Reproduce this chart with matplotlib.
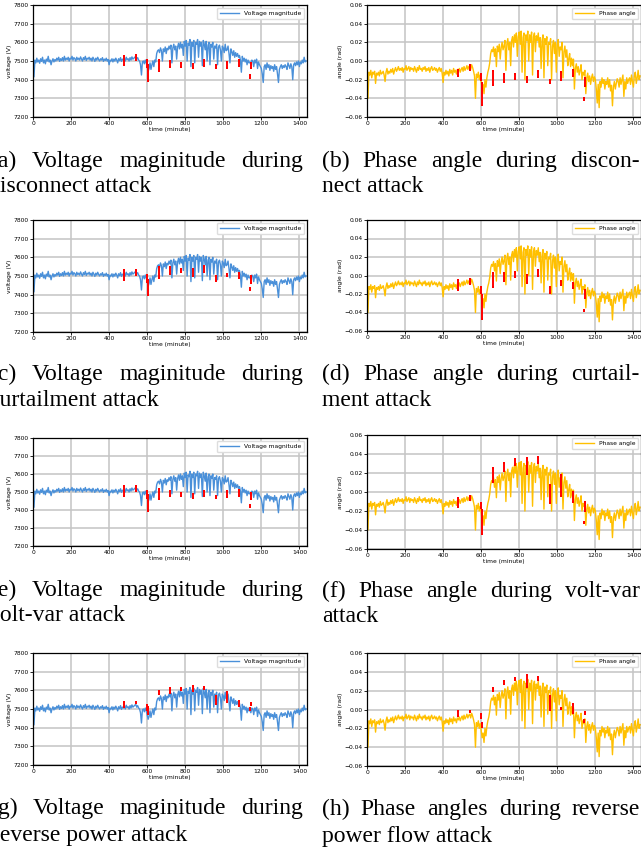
import numpy as np
import matplotlib.pyplot as plt

# feeder measurements, one sample every 5 minutes over a day
minutes = np.arange(0, 1440, 5)

voltage = np.array([
    7510, 7415, 7505, 7490, 7515, 7495, 7505, 7488, 7512, 7498, 7520, 7490,
    7505, 7485, 7510, 7500, 7525, 7495, 7505, 7480, 7500, 7512, 7495, 7508,
    7500, 7515, 7505, 7520, 7498, 7512, 7503, 7518, 7500, 7525, 7505, 7515,
    7508, 7520, 7500, 7515, 7510, 7525, 7505, 7518, 7512, 7500, 7520, 7508,
    7515, 7505, 7522, 7510, 7500, 7518, 7508, 7525, 7503, 7515, 7510, 7520,
    7505, 7515, 7500, 7520, 7510, 7498, 7515, 7505, 7520, 7508, 7500, 7512,
    7505, 7518, 7498, 7510, 7503, 7515, 7500, 7508, 7480, 7505, 7500, 7512,
    7495, 7510, 7500, 7515, 7505, 7490, 7512, 7502, 7518, 7498, 7510, 7505,
    7515, 7500, 7520, 7508, 7512, 7500, 7518, 7505, 7522, 7510, 7515, 7520,
    7525, 7510, 7518, 7505, 7500, 7480, 7425, 7495, 7500, 7485, 7505, 7490,
    7470, 7445, 7460, 7490, 7455, 7480, 7500, 7470, 7505, 7495, 7540, 7555,
    7560, 7545, 7570, 7555, 7500, 7565, 7550, 7575, 7540, 7568, 7560, 7580,
    7565, 7585, 7490, 7570, 7590, 7560, 7580, 7510, 7575, 7595, 7565, 7600,
    7570, 7590, 7530, 7605, 7580, 7610, 7500, 7595, 7585, 7615, 7470, 7600,
    7580, 7610, 7490, 7600, 7590, 7615, 7520, 7605, 7580, 7600, 7475, 7610,
    7590, 7560, 7605, 7500, 7585, 7600, 7480, 7590, 7575, 7600, 7510, 7580,
    7570, 7590, 7480, 7575, 7585, 7560, 7500, 7580, 7570, 7545, 7590, 7555,
    7560, 7580, 7540, 7490, 7565, 7550, 7530, 7555, 7520, 7545, 7525, 7540,
    7520, 7530, 7505, 7440, 7525, 7500, 7515, 7495, 7510, 7480, 7505, 7490,
    7495, 7480, 7505, 7500, 7470, 7505, 7490, 7510, 7460, 7495, 7480, 7470,
    7460, 7430, 7385, 7470, 7480, 7455, 7490, 7465, 7480, 7450, 7475, 7460,
    7470, 7445, 7480, 7455, 7470, 7430, 7385, 7455, 7470, 7480, 7460, 7475,
    7465, 7480, 7470, 7455, 7490, 7475, 7460, 7485, 7470, 7400, 7480, 7490,
    7475, 7495, 7480, 7500, 7470, 7495, 7485, 7505, 7490, 7520, 7495, 7500,
])

angle = np.array([
    -0.010, -0.040, -0.012, -0.015, -0.010, -0.018, -0.012, -0.014, -0.011, -0.024, -0.013, -0.015,
    -0.012, -0.016, -0.010, -0.014, -0.013, -0.011, -0.015, -0.022, -0.012, -0.008, -0.014, -0.011,
    -0.013, -0.009, -0.012, -0.008, -0.014, -0.010, -0.007, -0.011, -0.009, -0.006, -0.010, -0.008,
    -0.010, -0.007, -0.012, -0.008, -0.009, -0.005, -0.010, -0.008, -0.006, -0.011, -0.007, -0.009,
    -0.008, -0.011, -0.006, -0.009, -0.012, -0.007, -0.010, -0.005, -0.009, -0.008, -0.011, -0.007,
    -0.009, -0.006, -0.011, -0.008, -0.010, -0.007, -0.012, -0.008, -0.006, -0.010, -0.009, -0.007,
    -0.010, -0.008, -0.012, -0.009, -0.007, -0.011, -0.008, -0.013, -0.023, -0.012, -0.015, -0.010,
    -0.014, -0.011, -0.016, -0.009, -0.013, -0.010, -0.015, -0.008, -0.012, -0.010, -0.014, -0.009,
    -0.011, -0.008, -0.012, -0.009, -0.007, -0.011, -0.006, -0.010, -0.008, -0.005, -0.009, -0.006,
    -0.005, -0.009, -0.004, -0.007, -0.011, -0.016, -0.040, -0.014, -0.018, -0.012, -0.020, -0.015,
    -0.022, -0.030, -0.025, -0.035, -0.020, -0.028, -0.018, -0.012, -0.008, -0.002, 0.008, 0.012,
    0.010, 0.015, 0.005, 0.013, -0.006, 0.016, 0.010, 0.018, 0.002, 0.014, 0.020, 0.012,
    0.016, 0.022, -0.010, 0.018, 0.024, 0.012, 0.020, -0.005, 0.022, 0.026, 0.015, 0.028,
    0.020, 0.030, 0.005, 0.026, 0.031, 0.018, 0.032, -0.012, 0.025, 0.030, -0.020, 0.028,
    0.022, 0.032, 0.000, 0.028, 0.020, 0.031, -0.015, 0.026, 0.030, 0.010, 0.027, 0.022,
    0.030, 0.015, 0.025, -0.008, 0.022, 0.028, -0.018, 0.024, 0.018, 0.026, -0.005, 0.020,
    0.018, 0.024, -0.020, 0.016, 0.022, 0.008, 0.020, -0.012, 0.018, 0.023, 0.005, 0.015,
    0.012, 0.020, -0.018, 0.010, 0.016, 0.004, 0.012, -0.005, 0.002, 0.008, -0.006, 0.003,
    -0.005, 0.002, -0.030, -0.008, -0.003, -0.012, -0.006, -0.015, -0.010, -0.004, -0.020, -0.012,
    -0.015, -0.010, -0.035, -0.018, -0.013, -0.022, -0.016, -0.025, -0.018, -0.014, -0.022, -0.017,
    -0.020, -0.030, -0.045, -0.025, -0.050, -0.022, -0.028, -0.018, -0.024, -0.020, -0.030, -0.022,
    -0.025, -0.018, -0.028, -0.020, -0.032, -0.026, -0.048, -0.028, -0.022, -0.030, -0.024, -0.019,
    -0.022, -0.028, -0.018, -0.025, -0.020, -0.015, -0.038, -0.022, -0.030, -0.018, -0.024, -0.020,
    -0.018, -0.025, -0.015, -0.022, -0.028, -0.016, -0.012, -0.024, -0.018, -0.010, -0.020, -0.016,
])

# attack instants (minute) and the (low, high) range of the attacked samples
attack_t = [480, 540, 600, 605, 660, 720, 780, 840, 900, 960, 1020, 1080, 1140, 1145]

v_disconnect = [(7480, 7528), (7506, 7533), (7470, 7506), (7394, 7480), (7449, 7506),
                (7470, 7500), (7470, 7488), (7462, 7483), (7474, 7503), (7462, 7476),
                (7465, 7497), (7474, 7506), (7408, 7426), (7465, 7490)]
a_disconnect = [(-0.0166, -0.0094), (-0.0094, -0.004), (-0.020, -0.0137), (-0.047, -0.0237),
                (-0.0254, -0.0112), (-0.022, -0.0137), (-0.019, -0.0137), (-0.022, -0.017),
                (-0.017, -0.011), (-0.0237, -0.020), (-0.020, -0.0123), (-0.0166, -0.010),
                (-0.042, -0.0397), (-0.0265, -0.018)]
v_curtail = [(7478, 7531), (7504, 7531), (7469, 7508), (7397, 7478), (7487, 7546),
             (7513, 7546), (7519, 7540), (7501, 7535), (7522, 7553), (7474, 7501),
             (7499, 7510), (7490, 7517), (7424, 7438), (7463, 7499)]
a_curtail = [(-0.0156, -0.0047), (-0.009, -0.004), (-0.0193, -0.0127), (-0.0465, -0.0211),
             (-0.012, 0.0025), (-0.0055, 0.0025), (-0.0011, 0.0033), (-0.0076, 0.0007),
             (0.0, 0.0055), (-0.0185, -0.0127), (-0.010, -0.0055), (-0.0138, -0.0076),
             (-0.0385, -0.0375), (-0.0247, -0.0156)]
v_voltvar = [(7480, 7531), (7503, 7531), (7466, 7507), (7395, 7484), (7460, 7516),
             (7475, 7507), (7475, 7494), (7466, 7488), (7475, 7508), (7466, 7479),
             (7470, 7503), (7479, 7512), (7415, 7428), (7462, 7494)]
a_voltvar = [(-0.016, -0.0065), (-0.0083, -0.004), (-0.017, -0.0117), (-0.044, -0.0188),
             (0.011, 0.025), (0.0226, 0.0303), (0.0285, 0.0345), (0.019, 0.0355),
             (0.031, 0.0366), (-0.0117, 0.0075), (-0.004, 0.018), (-0.010, 0.0005),
             (-0.0327, -0.0313), (-0.020, -0.010)]
v_reverse = [(7513, 7537), (7531, 7540), (7496, 7522), (7474, 7513), (7581, 7594),
             (7585, 7612), (7600, 7612), (7594, 7621), (7606, 7617), (7528, 7567),
             (7535, 7589), (7517, 7544), (7495, 7504), (7520, 7531)]
a_reverse = [(-0.007, -0.0014), (-0.0025, -0.0014), (-0.0095, -0.005), (-0.019, -0.0148),
             (0.0198, 0.0233), (0.0268, 0.0303), (0.031, 0.0339), (0.024, 0.0363),
             (0.0318, 0.0346), (-0.0007, 0.0141), (0.001, 0.0021), (-0.0035, 0.0063),
             (-0.013, -0.0113), (-0.005, -0.0025)]

panels = [
    ('v', v_disconnect, '(a) Voltage maginitude during', 'disconnect attack'),
    ('a', a_disconnect, '(b) Phase angle during discon-', 'nect attack'),
    ('v', v_curtail, '(c) Voltage maginitude during', 'curtailment attack'),
    ('a', a_curtail, '(d) Phase angle during curtail-', 'ment attack'),
    ('v', v_voltvar, '(e) Voltage maginitude during', 'volt-var attack'),
    ('a', a_voltvar, '(f) Phase angle during volt-var', 'attack'),
    ('v', v_reverse, '(g) Voltage maginitude during', 'reverse power attack'),
    ('a', a_reverse, '(h) Phase angles during reverse', 'power flow attack'),
]

W, H = 641, 850
# axes boxes in pixels: left, top, right, bottom
boxes = [(33, 5, 307, 117), (367, 5, 641, 117),
         (33, 220, 307, 332), (367, 220, 641, 331),
         (33, 438, 307, 546), (367, 435, 641, 549),
         (33, 653, 307, 765), (367, 653, 641, 766)]
# caption column edges (px) and baselines of the two lines
columns = [(-10, 303), (322, 640)]
line2_x = [-12, 322, -11, 322, -12, 322, -8, 322]
baselines = [(167, 192), (167, 192), (380, 406), (380, 406),
             (596, 621), (597, 622), (814, 841), (815, 842)]
CAP = dict(family='Liberation Serif', fontsize=17, va='baseline')

fig = plt.figure(figsize=(W / 100, H / 100), dpi=100)
renderer = fig.canvas.get_renderer()


def justify(text, left, right, y):
    # spread the words of one caption line across the column width
    words = text.split()
    arts = [fig.text(0, 1 - y / H, w, ha='left', **CAP) for w in words]
    widths = [a.get_window_extent(renderer).width for a in arts]
    gap = (right - left - sum(widths)) / (len(words) - 1)
    x = left
    for a, w in zip(arts, widths):
        a.set_x(x / W)
        x += w + gap


for i, (kind, attack, line1, line2) in enumerate(panels):
    l, t, r, b = boxes[i]
    ax = fig.add_axes([l / W, 1 - b / H, (r - l) / W, (b - t) / H])
    if kind == 'v':
        ax.plot(minutes, voltage, color='#4a90d9', lw=1.0, label='Voltage magnitude')
        ax.set_ylim(7200, 7800)
        ax.set_yticks(np.arange(7200, 7801, 100))
        ax.set_ylabel('voltage (V)', fontsize=4.3, labelpad=1.5)
    else:
        ax.plot(minutes, angle, color='#ffc000', lw=1.0, label='Phase angle')
        ax.set_ylim(-0.06, 0.06)
        ax.set_yticks(np.arange(-0.06, 0.061, 0.02))
        ax.set_ylabel('angle (rad)', fontsize=4.3, labelpad=1.5)
    lo = [p[0] for p in attack]
    hi = [p[1] for p in attack]
    ax.vlines(attack_t, lo, hi, color='red', lw=1.4, zorder=4)
    ax.plot(attack_t, lo, 's', color='red', ms=1.8, mew=0, zorder=5)
    ax.plot(attack_t, hi, 's', color='red', ms=1.8, mew=0, zorder=5)
    ax.set_xlim(0, 1440)
    ax.set_xticks(np.arange(0, 1401, 200))
    ax.set_xlabel('time (minute)', fontsize=4.3, labelpad=0.5)
    ax.tick_params(labelsize=4.3, length=2, width=0.6, pad=1)
    ax.grid(True, color='#c4c4c4', lw=1.1)
    ax.set_axisbelow(True)
    for s in ax.spines.values():
        s.set_linewidth(0.9)
    ax.legend(loc='upper right', fontsize=4.3, handlelength=3.2, borderpad=0.5,
              framealpha=1, edgecolor='#dddddd', fancybox=True)

    left, right = columns[i % 2]
    y1, y2 = baselines[i]
    justify(line1, left, right, y1)
    fig.text(line2_x[i] / W, 1 - y2 / H, line2, ha='left', **CAP)

fig.savefig('out.png', dpi=100)
